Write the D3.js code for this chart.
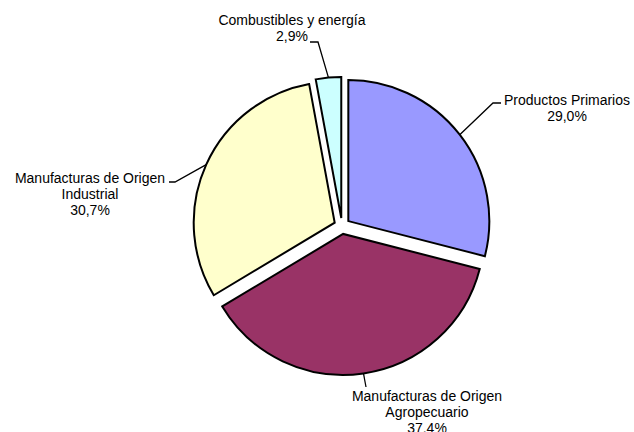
<!DOCTYPE html>
<html>
<head>
<meta charset="utf-8">
<title>Exportaciones por rubro</title>
<script src="https://d3js.org/d3.v7.min.js"></script>
<style>
  body { margin: 0; background: #fff; }
  .label {
    font-family: Arial, "Liberation Sans", Helvetica, sans-serif;
    font-size: 14px;
    fill: #000;
  }
</style>
</head>
<body>
<script>
// data (shares in %)
const categories = ['Productos Primarios', 'Manufacturas de Origen Agropecuario',
                    'Manufacturas de Origen Industrial', 'Combustibles y energía'];
const shares = [29.0, 37.4, 30.7, 2.9];
const labelLines = [['Productos Primarios'],
                    ['Manufacturas de Origen', 'Agropecuario'],
                    ['Manufacturas de Origen', 'Industrial'],
                    ['Combustibles y energía']];
const colors = ['#9999ff', '#993366', '#ffffcc', '#ccffff'];

const width = 634, height = 432;
const cx = 342, cy = 226, radius = 141, explode = 8;

// where each label sits (text centre x, first baseline y) and its leader elbow
const labelPos = [
  {x: 567, y: 105, leader: [[493, 103], [501, 103]]},
  {x: 427, y: 401, leader: [[366, 387]]},
  {x: 90,  y: 183, leader: [[175, 182], [169, 182]]},
  {x: 292, y: 25,  leader: [[318, 42], [310, 42]]}
];

const es = d3.formatLocale({decimal: ',', thousands: '.', grouping: [3], currency: ['', '']});
const pct = v => es.format('.1f')(v) + '%';

const svg = d3.select('body').append('svg')
  .attr('width', width).attr('height', height);

const rows = categories.map((c, i) => ({name: c, value: shares[i], i: i}));
const arcs = d3.pie().sort(null).value(d => d.value)(rows);
const arc = d3.arc().innerRadius(0).outerRadius(radius);

// offset of every exploded slice along its mid angle
const offset = d => {
  const a = (d.startAngle + d.endAngle) / 2;
  return [cx + explode * Math.sin(a), cy - explode * Math.cos(a)];
};

const g = svg.append('g');
g.selectAll('path').data(arcs).enter().append('path')
  .attr('transform', d => 'translate(' + offset(d) + ')')
  .attr('d', arc)
  .attr('fill', d => colors[d.data.i])
  .attr('stroke', '#000')
  .attr('stroke-width', 2)
  .attr('stroke-linejoin', 'miter');

// leader lines from the slice edge to the label
const line = d3.line();
g.selectAll('.leader').data(arcs).enter().append('path')
  .attr('class', 'leader')
  .attr('d', d => {
    const a = (d.startAngle + d.endAngle) / 2;
    const o = offset(d);
    const start = [o[0] + radius * Math.sin(a), o[1] - radius * Math.cos(a)];
    return line([start].concat(labelPos[d.data.i].leader));
  })
  .attr('fill', 'none')
  .attr('stroke', '#000')
  .attr('stroke-width', 1.3);

const labels = svg.append('g').selectAll('text').data(arcs).enter().append('text')
  .attr('class', 'label')
  .attr('text-anchor', 'middle')
  .attr('x', d => labelPos[d.data.i].x)
  .attr('y', d => labelPos[d.data.i].y);

labels.each(function (d) {
  const t = d3.select(this);
  const lines = labelLines[d.data.i].concat([pct(d.data.value)]);
  lines.forEach((s, k) => {
    t.append('tspan')
      .attr('x', labelPos[d.data.i].x)
      .attr('dy', k === 0 ? 0 : 16)
      .text(s);
  });
});
</script>
</body>
</html>
